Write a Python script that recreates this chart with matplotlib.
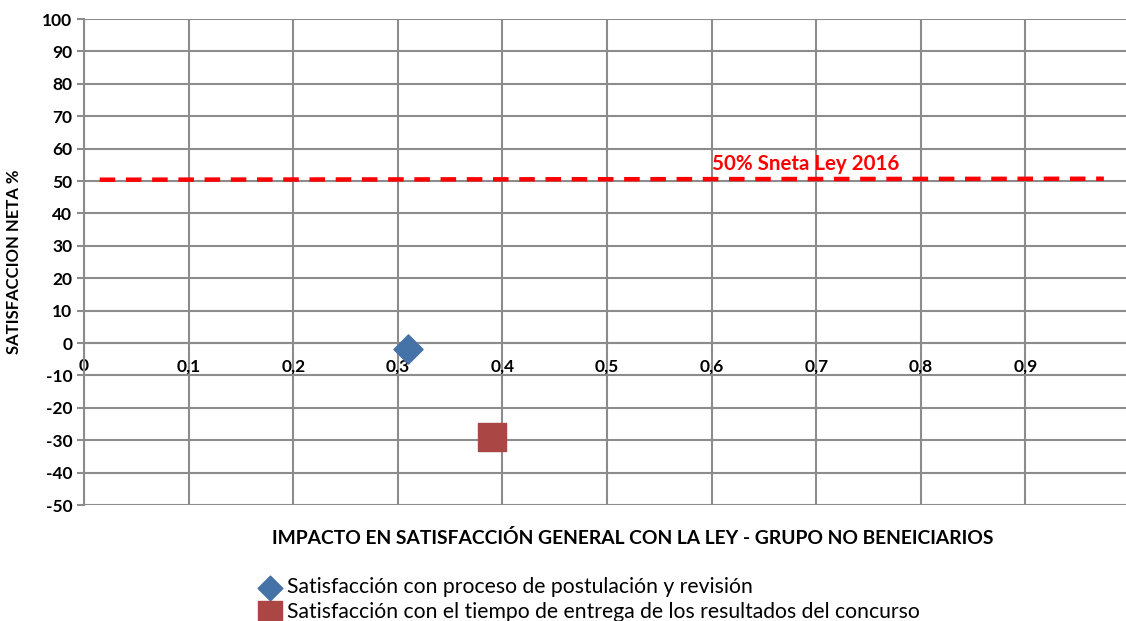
import matplotlib.pyplot as plt

# Data
x_ticks = [0, 0.1, 0.2, 0.3, 0.4, 0.5, 0.6, 0.7, 0.8, 0.9, 1.0]
x_tick_labels = ['0', '0,1', '0,2', '0,3', '0,4', '0,5', '0,6', '0,7', '0,8', '0,9', '1']
y_ticks = [-50, -40, -30, -20, -10, 0, 10, 20, 30, 40, 50, 60, 70, 80, 90, 100]
y_tick_labels = ['-50', '-40', '-30', '-20', '-10', '0', '10', '20', '30', '40',
                 '50', '60', '70', '80', '90', '100']

series_names = ['Satisfacción con proceso de postulación y revisión',
                'Satisfacción con el tiempo de entrega de los resultados del concurso']
impacto = [0.31, 0.39]
satisfaccion_neta = [-2, -29]

ref_x = [0.015, 0.975]
ref_y = [50.4, 50.7]
ref_label = '50% Sneta Ley 2016'

# Figure
plt.rcParams['font.family'] = ['Lato', 'DejaVu Sans']
fig = plt.figure(figsize=(11.26, 6.21), dpi=100)
ax = fig.add_axes([84 / 1126, 116 / 621, 1046 / 1126, 486 / 621])

grid_color = '#8c8c8c'
for side in ['top', 'right']:
    ax.spines[side].set_visible(False)
ax.spines['left'].set_color(grid_color)
ax.spines['left'].set_linewidth(1.5)
ax.spines['bottom'].set_position(('data', 0))
ax.spines['bottom'].set_color(grid_color)
ax.spines['bottom'].set_linewidth(1.5)

ax.set_xlim(0, 1)
ax.set_ylim(-50, 100)
ax.set_xticks(x_ticks)
ax.set_xticklabels(x_tick_labels, fontweight='bold', fontsize=12.5)
ax.set_yticks(y_ticks)
ax.set_yticklabels(y_tick_labels, fontweight='bold', fontsize=12.5)
ax.grid(True, color=grid_color, linewidth=1.5)
ax.set_axisbelow(True)

ax.tick_params(axis='y', colors=grid_color, length=5, width=1.5, labelcolor='black')
ax.tick_params(axis='x', length=0, pad=11)

# Reference line
ax.plot(ref_x, ref_y, color='red', linewidth=3.2, dashes=(3.5, 2.4))
ax.text(0.6, 52.3, ref_label, color='red', fontsize=14.8, fontweight='bold',
        ha='left', va='bottom')

# Points
ax.scatter(impacto[0], satisfaccion_neta[0], marker='D', s=220, color='#4572A7',
           label=series_names[0], zorder=3, clip_on=False)
ax.scatter(impacto[1], satisfaccion_neta[1], marker='s', s=380, color='#AA4643',
           label=series_names[1], zorder=3, clip_on=False)

ax.set_xlabel('IMPACTO EN SATISFACCIÓN GENERAL CON LA LEY - GRUPO NO BENEICIARIOS',
              fontsize=13.9, fontweight='bold')
ax.xaxis.set_label_coords(549 / 1046, -24 / 486)
ax.set_ylabel('SATISFACCION NETA %', fontsize=12, fontweight='bold')
ax.yaxis.set_label_coords(-62 / 1046, 243 / 486)

leg = ax.legend(loc='upper left', bbox_to_anchor=(250 / 1126, 1 - 569 / 621),
                bbox_transform=fig.transFigure, frameon=False, fontsize=15.2,
                handletextpad=0.25, labelspacing=0.22, borderaxespad=0,
                handlelength=1.1, markerscale=0.85)

fig.savefig('out.png', dpi=100)
